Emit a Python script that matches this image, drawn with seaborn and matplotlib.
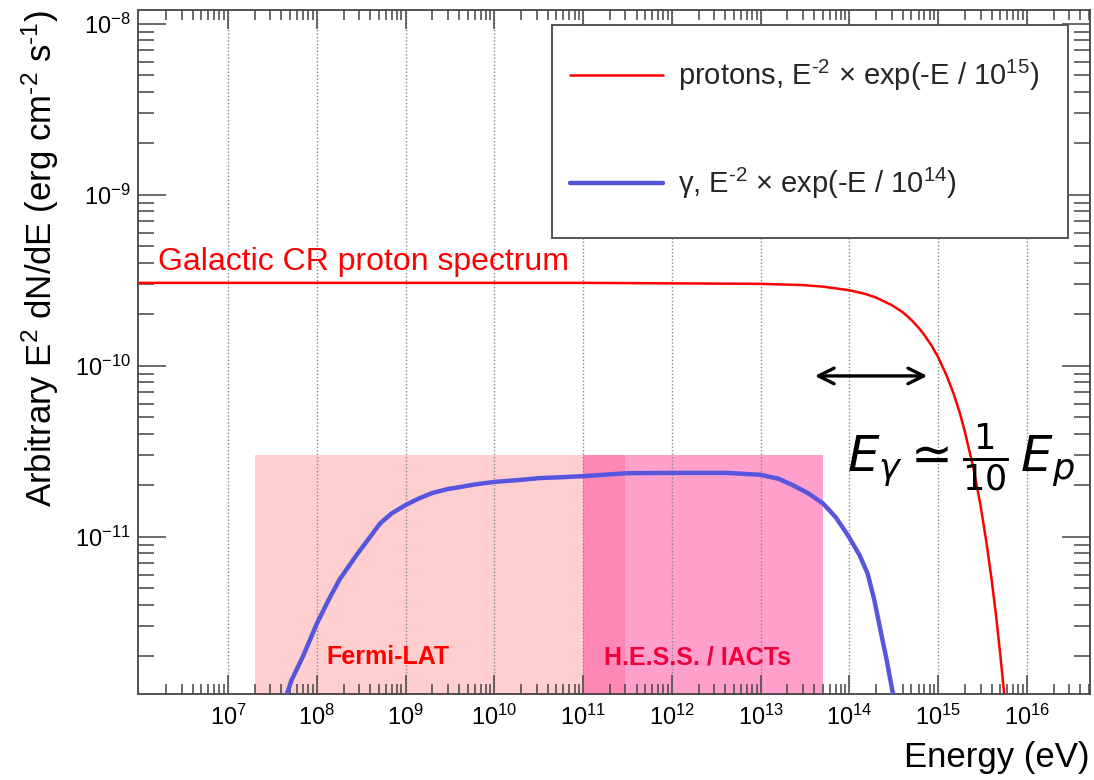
import numpy as np
import pandas as pd
import matplotlib
matplotlib.use("Agg")
import matplotlib.pyplot as plt
import seaborn as sns
from matplotlib.ticker import FixedLocator, FixedFormatter, LogLocator, NullFormatter
from matplotlib.patches import Rectangle

# ---------------- data ----------------
proton_energy = [1e6, 1e7, 1e8, 1e9, 1e10, 1e11, 1e12, 3e12, 1e13, 3e13, 5e13, 1e14, 1.5e14,
                 2e14, 3e14, 4e14, 5e14, 6e14, 7e14, 8.5e14, 1e15, 1.25e15, 1.5e15, 1.75e15,
                 2e15, 2.5e15, 3e15, 3.5e15, 4e15, 4.5e15, 5e15, 5.5e15, 6e15, 6.3e15]
proton_flux = [3.05e-10, 3.05e-10, 3.05e-10, 3.05e-10, 3.05e-10, 3.05e-10, 3.03e-10, 3.02e-10,
               3.01e-10, 2.96e-10, 2.9e-10, 2.76e-10, 2.63e-10, 2.50e-10, 2.26e-10, 2.05e-10,
               1.85e-10, 1.67e-10, 1.51e-10, 1.3e-10, 1.12e-10, 8.7e-11, 6.8e-11, 5.3e-11,
               4.1e-11, 2.5e-11, 1.52e-11, 9.2e-12, 5.6e-12, 3.4e-12, 2.05e-12, 1.25e-12,
               7.6e-13, 5.6e-13]

gamma_energy = [4.2e7, 4.6e7, 5.2e7, 7e7, 1.0e8, 1.4e8, 1.8e8, 2.8e8, 4e8, 5.2e8, 7e8, 1.0e9,
                1.4e9, 2.0e9, 3e9, 4.1e9, 6e9, 1.0e10, 2e10, 3.2e10, 6e10, 1.0e11, 3.1e11,
                1.0e12, 4.2e12, 1.0e13, 1.6e13, 2.3e13, 3.4e13, 5.0e13, 7e13, 9.6e13, 1.3e14,
                1.6e14, 1.9e14, 2.2e14, 2.6e14, 3.1e14, 3.3e14]
gamma_flux = [1.0e-12, 1.2e-12, 1.45e-12, 2.0e-12, 3.1e-12, 4.4e-12, 5.6e-12, 7.8e-12, 1.0e-11,
              1.2e-11, 1.37e-11, 1.53e-11, 1.67e-11, 1.8e-11, 1.9e-11, 1.95e-11, 2.02e-11,
              2.09e-11, 2.15e-11, 2.2e-11, 2.23e-11, 2.26e-11, 2.35e-11, 2.36e-11, 2.36e-11,
              2.3e-11, 2.18e-11, 2.0e-11, 1.8e-11, 1.57e-11, 1.3e-11, 1.02e-11, 7.8e-12,
              6.1e-12, 4.3e-12, 2.96e-12, 1.95e-12, 1.2e-12, 1.0e-12]

fermi_range = [2e7, 3e11]
hess_range = [1e11, 5e13]
band_top = 3e-11

x_ticks = [1e7, 1e8, 1e9, 1e10, 1e11, 1e12, 1e13, 1e14, 1e15, 1e16]
x_tick_labels = [r"$10^{7}$", r"$10^{8}$", r"$10^{9}$", r"$10^{10}$", r"$10^{11}$",
                 r"$10^{12}$", r"$10^{13}$", r"$10^{14}$", r"$10^{15}$", r"$10^{16}$"]
y_ticks = [1e-11, 1e-10, 1e-9, 1e-8]
y_tick_labels = [r"$10^{-11}$", r"$10^{-10}$", r"$10^{-9}$", r"$10^{-8}$"]

proton_label = r"protons, E$^{\text{-}2}$ $\times$ exp(-E / 10$^{15}$)"
gamma_label = r"γ, E$^{\text{-}2}$ $\times$ exp(-E / 10$^{14}$)"

# ---------------- style ----------------
sns.set_theme(style="white")
plt.rcParams["font.family"] = ["Liberation Sans", "DejaVu Sans"]
plt.rcParams["mathtext.fontset"] = "custom"
plt.rcParams["mathtext.rm"] = "Liberation Sans"
plt.rcParams["mathtext.it"] = "Liberation Sans:italic"
plt.rcParams["mathtext.bf"] = "Liberation Sans:bold"

W, H = 1094, 780
fig = plt.figure(figsize=(W / 100, H / 100), dpi=100)
ax = fig.add_axes([138 / W, 1 - 694 / H, 952 / W, 684 / H])
ax.set_xscale("log")
ax.set_yscale("log")
ax.set_xlim(10 ** 5.986, 10 ** 16.71)
ax.set_ylim(10 ** -11.92, 10 ** -7.92)

# detector ranges
ax.fill_between(fermi_range, [band_top, band_top], [1e-14, 1e-14],
                color="#FFCFCF", lw=0, zorder=0.2)
ax.fill_between(hess_range, [band_top, band_top], [1e-14, 1e-14],
                color=(1.0, 65 / 255, 155 / 255), alpha=0.5, lw=0, zorder=0.3)

# curves
proton_df = pd.DataFrame({"E": proton_energy, "F": proton_flux})
gamma_df = pd.DataFrame({"E": gamma_energy, "F": gamma_flux})
sns.lineplot(data=proton_df, x="E", y="F", ax=ax, color="#FF0000", lw=1.8,
             estimator=None, sort=True, label=proton_label, zorder=3)
sns.lineplot(data=gamma_df, x="E", y="F", ax=ax, color="#5555DD", lw=3.2,
             estimator=None, sort=True, label=gamma_label, zorder=3)

# axes styling
ax.xaxis.set_major_locator(FixedLocator(x_ticks))
ax.xaxis.set_major_formatter(FixedFormatter(x_tick_labels))
ax.xaxis.set_minor_locator(LogLocator(base=10, subs=np.arange(2, 10), numticks=30))
ax.xaxis.set_minor_formatter(NullFormatter())
ax.yaxis.set_major_locator(FixedLocator(y_ticks))
ax.yaxis.set_major_formatter(FixedFormatter(y_tick_labels))
ax.yaxis.set_minor_locator(LogLocator(base=10, subs=np.arange(2, 10), numticks=30))
ax.yaxis.set_minor_formatter(NullFormatter())

tc = "#444444"
ax.tick_params(axis="both", which="both", direction="in", top=True, right=True,
               bottom=True, left=True, color=tc, width=1.1, labelsize=17,
               labelcolor="black")
ax.tick_params(axis="x", which="major", length=13.5, pad=8)
ax.tick_params(axis="x", which="minor", length=7)
ax.tick_params(axis="y", which="major", length=20, pad=5)
ax.tick_params(axis="y", which="minor", length=11.5)
for s in ax.spines.values():
    s.set_color(tc)
    s.set_linewidth(1.3)

ax.set_axisbelow(True)
ax.grid(axis="x", which="major", linestyle=(0, (1, 1.5)), color="#888888", lw=1.0, zorder=0.5)
ax.grid(axis="y", which="both", visible=False)

ax.set_xlabel("Energy (eV)", loc="right", fontsize=25, labelpad=8, color="black")
ax.set_ylabel(r"Arbitrary E$^{2}$ dN/dE (erg cm$^{\text{-}2}$ s$^{\text{-}1}$)",
              loc="top", fontsize=25, labelpad=10, color="black")

# texts
ax.text(0.021, 0.620, "Galactic CR proton spectrum", transform=ax.transAxes,
        color="#FF0000", fontsize=23, ha="left", va="baseline")
ax.text(0.2626, 0.054, "Fermi-LAT", transform=ax.transAxes, color="#FF0000",
        fontsize=18, fontweight="bold", ha="center", va="center")
ax.text(0.588, 0.054, "H.E.S.S. / IACTs", transform=ax.transAxes, color="#F0003C",
        fontsize=18, fontweight="bold", ha="center", va="center")

# hand-written annotation
ax.annotate("", xy=(0.832, 0.465), xytext=(0.708, 0.465), xycoords="axes fraction",
            arrowprops=dict(arrowstyle="<->", color="black", lw=2.4, mutation_scale=28))
ax.text(0.865, 0.345, r"$E_{\gamma} \simeq \frac{1}{10}\,E_{p}$", transform=ax.transAxes,
        fontsize=36, color="black", ha="center", va="center", math_fontfamily="dejavusans")

# legend (frame drawn as a separate box, inside the axes draw order)
frame = Rectangle((552 / W, 1 - 238 / H), 516 / W, 213 / H, transform=fig.transFigure,
                  facecolor="white", edgecolor="#555555", lw=1.4, zorder=4, clip_on=False)
ax.add_patch(frame)
leg = ax.legend(loc="upper left", bbox_to_anchor=(570 / W, 1 - 58 / H),
                bbox_transform=fig.transFigure, fontsize=21, handlelength=3.2,
                handletextpad=0.5, labelspacing=2.5, borderpad=0, borderaxespad=0,
                frameon=False)
leg.set_zorder(6)

fig.savefig("out.png", dpi=100)
